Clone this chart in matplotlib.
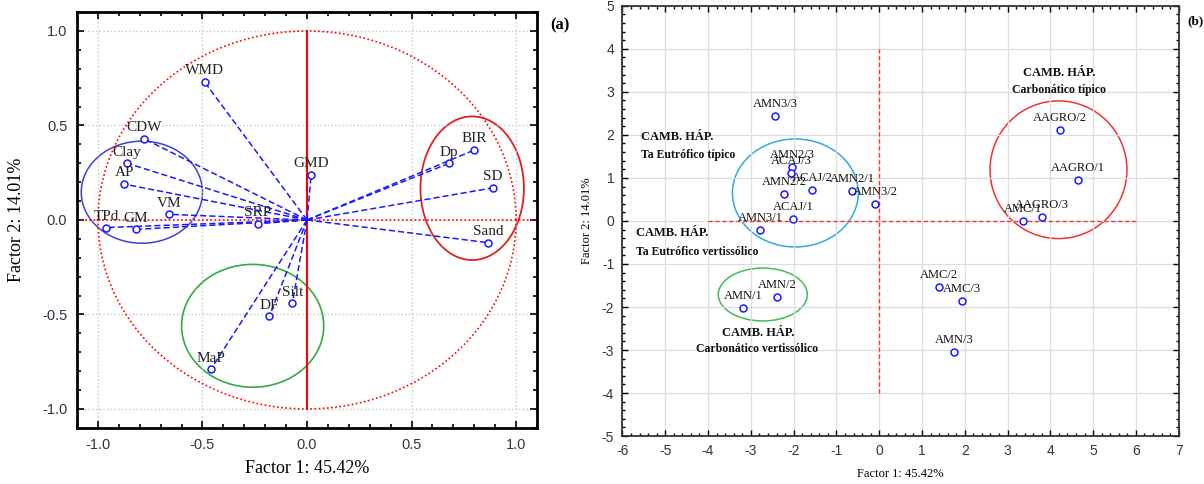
import numpy as np
import matplotlib
matplotlib.use("Agg")
import matplotlib.pyplot as plt
from matplotlib.patches import Ellipse
from matplotlib.ticker import MultipleLocator

plt.rcParams["axes.unicode_minus"] = False

# (a) variable loadings
var_names = ["WMD", "CDW", "Clay", "AP", "VM", "TPd", "GM", "SRP", "GMD",
             "Dp", "BIR", "SD", "Sand", "Silt", "DF", "MaP"]
var_f1 = [-0.49, -0.78, -0.86, -0.875, -0.66, -0.96, -0.82, -0.235, 0.02,
          0.68, 0.80, 0.89, 0.865, -0.07, -0.18, -0.46]
var_f2 = [0.73, 0.43, 0.30, 0.19, 0.03, -0.04, -0.05, -0.02, 0.24,
          0.30, 0.37, 0.17, -0.12, -0.44, -0.51, -0.79]

# (b) sample scores
smp_names = ["AMN3/3", "AMN2/3", "ACAJ/3", "AMN2/2", "ACAJ/2", "AMN2/1", "AMN3/2",
             "ACAJ/1", "AMN3/1", "AMN/1", "AMN/2", "AMC/2", "AMC/3", "AMN/3",
             "AAGRO/2", "AAGRO/1", "AAGRO/3", "AMC/1"]
smp_f1 = [-2.43, -2.03, -2.06, -2.22, -1.56, -0.63, -0.09,
          -2.01, -2.78, -3.18, -2.38, 1.40, 1.94, 1.75,
          4.23, 4.65, 3.81, 3.36]
smp_f2 = [2.44, 1.26, 1.11, 0.63, 0.72, 0.70, 0.40,
          0.05, -0.21, -2.02, -1.77, -1.53, -1.86, -3.05,
          2.12, 0.95, 0.09, 0.00]

serif = "Liberation Serif"
sans = "Liberation Sans"
blue = "#1a1aff"

fig = plt.figure(figsize=(12.04, 4.84), dpi=100)

# ---------- panel (a) ----------
ax1 = fig.add_axes([0.064, 0.116, 0.382, 0.859])
ax1.set_xlim(-1.1, 1.1)
ax1.set_ylim(-1.1, 1.1)

t = np.linspace(0, 2 * np.pi, 400)
ax1.plot(np.cos(t), np.sin(t), color="red", lw=1.2, ls=(0, (1, 1.5)), zorder=2)
ax1.plot([-1.1, 1.1], [0, 0], color="red", lw=1.2, ls=(0, (1, 1.5)), zorder=2)
ax1.plot([0, 0], [-1, 1], color="red", lw=1.5, zorder=2)

for name, x, y in zip(var_names, var_f1, var_f2):
    ax1.plot([0, x], [0, y], color=blue, lw=1.1, ls=(0, (4, 2)), zorder=3)
    ax1.annotate(name, (x, y), xytext=(0, 8), textcoords="offset points",
                 ha="center", va="center", fontsize=11, family=serif, color="#222222", zorder=5)
ax1.plot(var_f1, var_f2, "o", mfc="white", mec=blue, ms=5, mew=1.1, ls="none", zorder=4)

ax1.add_patch(Ellipse((-0.79, 0.147), 0.58, 0.54, fill=False, ec="#4040d0", lw=1.1))
ax1.add_patch(Ellipse((0.79, 0.168), 0.495, 0.76, fill=False, ec="#e02020", lw=1.3))
ax1.add_patch(Ellipse((-0.26, -0.56), 0.68, 0.65, fill=False, ec="#33aa44", lw=1.2))

ax1.xaxis.set_minor_locator(MultipleLocator(0.1))
ax1.yaxis.set_minor_locator(MultipleLocator(0.1))
ax1.set_xticks([-1.0, -0.5, 0.0, 0.5, 1.0])
ax1.set_yticks([-1.0, -0.5, 0.0, 0.5, 1.0])
ax1.grid(True, which="major", color="#c8c8c8", ls=":", lw=1)
ax1.tick_params(which="both", direction="in", top=True, right=True, width=1.2)
ax1.tick_params(which="major", length=5, labelsize=10.5, labelcolor="#333344", pad=7)
ax1.tick_params(which="minor", length=3)
for lab in ax1.get_xticklabels() + ax1.get_yticklabels():
    lab.set_family(sans)
for s in ax1.spines.values():
    s.set_linewidth(2)
ax1.set_xlabel("Factor 1: 45.42%", family=serif, fontsize=13, labelpad=6)
ax1.set_ylabel("Factor 2: 14.01%", family=serif, fontsize=13, labelpad=12)
fig.text(0.457, 0.948, "(a)", family=serif, fontsize=12, weight="bold", va="center")

# ---------- panel (b) ----------
ax2 = fig.add_axes([0.517, 0.099, 0.462, 0.889])
ax2.set_xlim(-6, 7)
ax2.set_ylim(-5, 5)

ax2.plot([-4, 6], [0, 0], color="#ff3030", lw=1, ls=(0, (3, 2)), zorder=2)
ax2.plot([0, 0], [-4, 4], color="#ff3030", lw=1, ls=(0, (3, 2)), zorder=2)

ax2.plot(smp_f1, smp_f2, "o", mfc="white", mec=blue, ms=5, mew=1.1, ls="none", zorder=4)
for name, x, y in zip(smp_names, smp_f1, smp_f2):
    ax2.annotate(name, (x, y), xytext=(0, 8.5), textcoords="offset points",
                 ha="center", va="center", fontsize=9, family=serif, color="#111111", zorder=5)

ax2.add_patch(Ellipse((-1.96, 0.65), 2.94, 2.51, fill=False, ec="#33aadd", lw=1.1))
ax2.add_patch(Ellipse((-2.72, -1.71), 2.08, 1.23, fill=False, ec="#44bb55", lw=1.1))
ax2.add_patch(Ellipse((4.19, 1.19), 3.2, 3.2, fill=False, ec="#ee3333", lw=1.1))

grp = dict(family=serif, weight="bold", color="#111111")
ax2.text(-5.56, 1.95, "CAMB. HÁP.", fontsize=9, ha="left", va="center", **grp)
ax2.text(-5.56, 1.53, "Ta Eutrófico típico", fontsize=8.5, ha="left", va="center", **grp)
ax2.text(-5.68, -0.28, "CAMB. HÁP.", fontsize=9, ha="left", va="center", **grp)
ax2.text(-5.68, -0.72, "Ta Eutrófico vertissólico", fontsize=8.5, ha="left", va="center", **grp)
ax2.text(-2.83, -2.6, "CAMB. HÁP.", fontsize=9, ha="center", va="center", **grp)
ax2.text(-2.85, -2.98, "Carbonático vertissólico", fontsize=8.5, ha="center", va="center", **grp)
ax2.text(4.2, 3.44, "CAMB. HÁP.", fontsize=9, ha="center", va="center", **grp)
ax2.text(4.2, 3.05, "Carbonático típico", fontsize=8.5, ha="center", va="center", **grp)

ax2.xaxis.set_major_locator(MultipleLocator(1))
ax2.yaxis.set_major_locator(MultipleLocator(1))
ax2.xaxis.set_minor_locator(MultipleLocator(0.2))
ax2.yaxis.set_minor_locator(MultipleLocator(0.2))
ax2.grid(True, which="major", color="#dddddd", lw=0.9)
ax2.tick_params(which="both", direction="in", top=True, right=True, width=1)
ax2.tick_params(which="major", length=4, labelsize=10, labelcolor="#333344", pad=6)
ax2.tick_params(which="minor", length=2)
for lab in ax2.get_xticklabels() + ax2.get_yticklabels():
    lab.set_family(sans)
for s in ax2.spines.values():
    s.set_linewidth(1.3)
    s.set_color("#333333")
ax2.set_xlabel("Factor 1: 45.42%", family=serif, fontsize=9, labelpad=7)
ax2.set_ylabel("Factor 2: 14.01%", family=serif, fontsize=9, labelpad=6)
fig.text(0.986, 0.957, "(b)", family=serif, fontsize=9.5, weight="bold", va="center")

fig.savefig("out.png", dpi=100)
